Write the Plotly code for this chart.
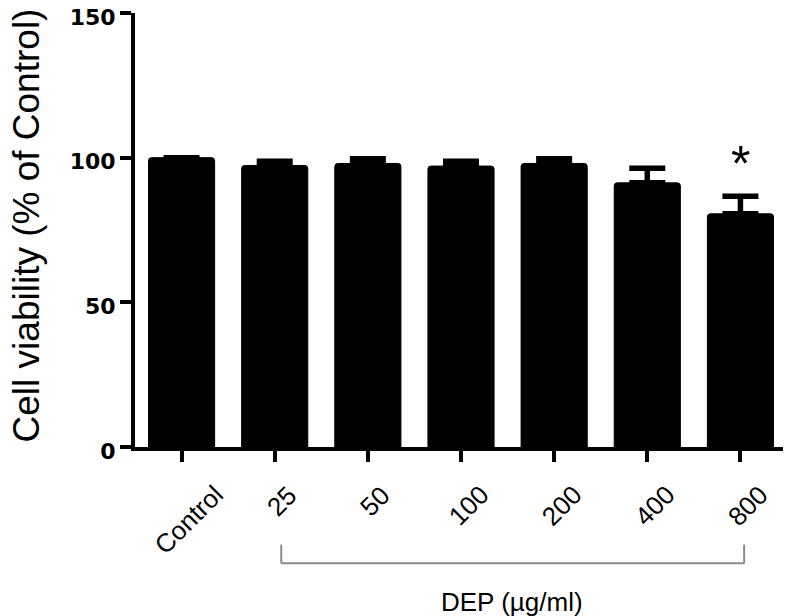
import plotly.graph_objects as go

# ---- data ----
categories = ["Control", "25", "50", "100", "200", "400", "800"]
viability = [100.0, 97.3, 98.0, 97.1, 98.0, 91.3, 80.6]
sem = [0.0, 1.5, 1.6, 1.7, 1.6, 5.0, 6.1]
significance = ["", "", "", "", "", "", "*"]
y_ticks = [0, 50, 100, 150]
x_title = "DEP (µg/ml)"
y_title = "Cell viability (% of Control)"

FONT = "Liberation Sans, Arial, Helvetica, sans-serif"
TICKFONT = "DejaVu Sans, Liberation Sans, Arial, sans-serif"
idx = list(range(len(categories)))

fig = go.Figure()
fig.add_trace(go.Bar(
    x=idx,
    y=viability,
    marker=dict(color="black", line=dict(color="black", width=1), cornerradius=3),
    error_y=dict(type="data", symmetric=False, array=sem,
                 arrayminus=[0] * len(sem), color="black",
                 thickness=5.5, width=18),
    showlegend=False,
))

annotations = []
# rotated category labels
for i, c in zip(idx, categories):
    annotations.append(dict(
        x=i, y=0, xref="x", yref="y", text=c, showarrow=False,
        textangle=-45, xanchor="center", yanchor="top",
        xshift=7, yshift=-30,
        font=dict(family=FONT, size=26, color="black"),
    ))
# significance markers
for i, v, e, s in zip(idx, viability, sem, significance):
    if s:
        annotations.append(dict(
            x=i, y=v + e, xref="x", yref="y", text=s, showarrow=False,
            yanchor="middle", yshift=32,
            font=dict(family=FONT, size=50, color="black"),
        ))
# group title
annotations.append(dict(
    x=3.55, y=-0.358, xref="x", yref="paper", text=x_title, showarrow=False,
    xanchor="center", yanchor="middle",
    font=dict(family=FONT, size=26, color="black"),
))
# y-axis title
annotations.append(dict(
    x=-0.166, y=0.51, xref="paper", yref="paper", text=y_title, showarrow=False,
    textangle=-90, xanchor="center", yanchor="middle",
    font=dict(family=FONT, size=37, color="black"),
))
fig.update_layout(annotations=annotations)

# bracket under the DEP group
bx0, bx1 = 1.07, 6.04
by_top, by_bot = -0.225, -0.268
for shp in [
    dict(x0=bx0, x1=bx0, y0=by_top, y1=by_bot),
    dict(x0=bx1, x1=bx1, y0=by_top, y1=by_bot),
    dict(x0=bx0, x1=bx1, y0=by_bot, y1=by_bot),
]:
    fig.add_shape(type="line", xref="x", yref="paper",
                  line=dict(color="#8a8a8a", width=2), **shp)

fig.update_layout(
    width=783, height=608,
    margin=dict(l=127, r=4, t=5, b=168.5),
    paper_bgcolor="white", plot_bgcolor="white",
    bargap=0.29,
    font=dict(family=FONT, color="black"),
    xaxis=dict(
        range=[-0.5, 6.5], tickvals=idx,
        showticklabels=False, ticks="outside", ticklen=11, tickwidth=4,
        tickcolor="black", showline=True, linecolor="black", linewidth=4,
        showgrid=False, zeroline=False, automargin=False,
    ),
    yaxis=dict(
        range=[0, 150], tickvals=y_ticks, ticktext=[str(t) for t in y_ticks],
        ticks="outside", ticklen=11, tickwidth=4, tickcolor="black",
        showline=True, linecolor="black", linewidth=4,
        showgrid=False, zeroline=False, automargin=False,
        ticklabeloverflow="allow", ticklabelshift=4,
        tickfont=dict(family=TICKFONT, size=22, color="black", weight="bold"),
    ),
)

fig.write_html("out.html")
